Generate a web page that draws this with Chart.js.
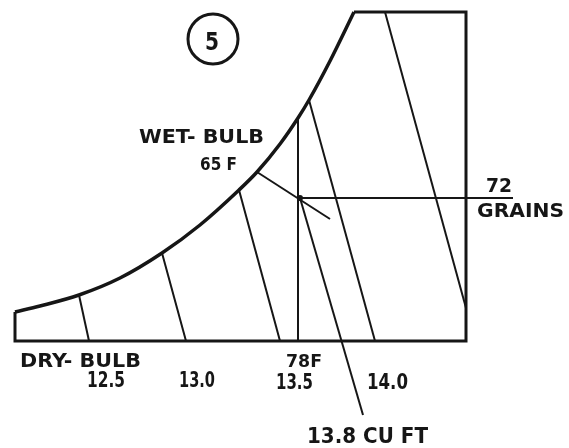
<!DOCTYPE html>
<html>
<head>
<meta charset="utf-8">
<script src="https://cdn.jsdelivr.net/npm/chart.js@4/dist/chart.umd.min.js"></script>
<style>
	html, body { margin: 0; padding: 0; background: #ffffff; }
	canvas { display: block; }
</style>
</head>
<body>
<canvas id="chart" width="569" height="448"></canvas>
<script>
// chart units: x grows right, y grows down (same frame as the sheet)
var saturationX = [15, 40, 79, 120, 162, 200, 239, 257, 280, 298, 309, 330, 354];
var saturationY = [312, 306, 295, 278, 253, 225, 190, 172, 144, 118, 100, 61, 12];

var frameX = [354, 466, 466, 15, 15];
var frameY = [12, 12, 341, 341, 312];

// specific volume lines, cu ft per lb (14.5 is unlabeled)
var volumeValues = ['12.5', '13.0', '13.5', '14.0', ''];
var volumeTopX = [79, 162, 239, 309, 385];
var volumeTopY = [295, 253, 190, 100, 12];
var volumeBottomX = [89, 186, 280, 375, 466];
var volumeBottomY = [341, 341, 341, 341, 308];

// state point: 78F dry-bulb, 65F wet-bulb, 72 grains, 13.8 cu ft
var pointX = [300];
var pointY = [198];
var dryBulbX = [298, 298];
var dryBulbY = [118, 341];
var wetBulbX = [257, 330];
var wetBulbY = [172, 219];
var grainsX = [298, 513];
var grainsY = [198, 198];
var volume138X = [300, 363];
var volume138Y = [198, 415];

var badgeX = [213];
var badgeY = [39];

function pts(xs, ys) {
	var out = [];
	for (var i = 0; i < xs.length; i++) {
		out.push({x: xs[i], y: ys[i]});
	}
	return out;
}

function lineSet(data, width) {
	return {
		data: data,
		showLine: true,
		borderColor: '#161616',
		borderWidth: width,
		pointRadius: 0,
		fill: false,
		clip: false
	};
}

var datasets = [];
var sat = lineSet(pts(saturationX, saturationY), 3.5);
sat.cubicInterpolationMode = 'monotone';
datasets.push(sat);
datasets.push(lineSet(pts(frameX, frameY), 3));
for (var i = 0; i < volumeValues.length; i++) {
	datasets.push(lineSet(pts([volumeTopX[i], volumeBottomX[i]], [volumeTopY[i], volumeBottomY[i]]), 2));
}
datasets.push(lineSet(pts(dryBulbX, dryBulbY), 2));
datasets.push(lineSet(pts(wetBulbX, wetBulbY), 2));
datasets.push(lineSet(pts(grainsX, grainsY), 2));
datasets.push(lineSet(pts(volume138X, volume138Y), 2));
datasets.push({
	data: pts(pointX, pointY),
	pointRadius: 3,
	pointBackgroundColor: '#161616',
	pointBorderWidth: 0,
	clip: false
});
datasets.push({
	data: pts(badgeX, badgeY),
	pointRadius: 25,
	pointBorderWidth: 3,
	pointBorderColor: '#161616',
	pointBackgroundColor: 'rgba(0,0,0,0)',
	clip: false
});

// label layout: text, left, right, baseline, font size
var notes = [
	['5', 205, 219, 50, 25],
	['WET- BULB', 139, 264, 143, 20],
	['65 F', 200, 237, 170, 18],
	['72', 486, 512, 192, 20],
	['GRAINS', 477, 564, 217, 20],
	['DRY- BULB', 20, 141, 367, 19],
	[volumeValues[0], 87, 125, 387, 21],
	[volumeValues[1], 179, 215, 387, 21],
	['78F', 286, 322, 367, 17],
	[volumeValues[2], 276, 313, 389, 21],
	[volumeValues[3], 367, 408, 389, 21],
	['13.8 CU FT', 307, 428, 443, 21]
];

var notesPlugin = {
	id: 'notes',
	afterDatasetsDraw: function (chart) {
		var ctx = chart.ctx;
		var xs = chart.scales.x;
		var ys = chart.scales.y;
		ctx.save();
		ctx.fillStyle = '#161616';
		ctx.textBaseline = 'alphabetic';
		ctx.textAlign = 'left';
		for (var i = 0; i < notes.length; i++) {
			var n = notes[i];
			var left = xs.getPixelForValue(n[1]);
			var right = xs.getPixelForValue(n[2]);
			var base = ys.getPixelForValue(n[3]);
			ctx.font = 'bold ' + n[4] + 'px "DejaVu Sans"';
			var w = ctx.measureText(n[0]).width;
			ctx.save();
			ctx.translate(left, base);
			ctx.scale((right - left) / w, 1);
			ctx.fillText(n[0], 0, 0);
			ctx.restore();
		}
		ctx.restore();
	}
};

var chart = new Chart(document.getElementById('chart'), {
	type: 'scatter',
	data: { datasets: datasets },
	options: {
		responsive: false,
		animation: false,
		layout: { padding: 0, autoPadding: false },
		plugins: {
			legend: { display: false },
			tooltip: { enabled: false }
		},
		scales: {
			x: { type: 'linear', min: 0, max: 569, display: false },
			y: { type: 'linear', min: 0, max: 448, reverse: true, display: false }
		}
	},
	plugins: [notesPlugin]
});
</script>
</body>
</html>
